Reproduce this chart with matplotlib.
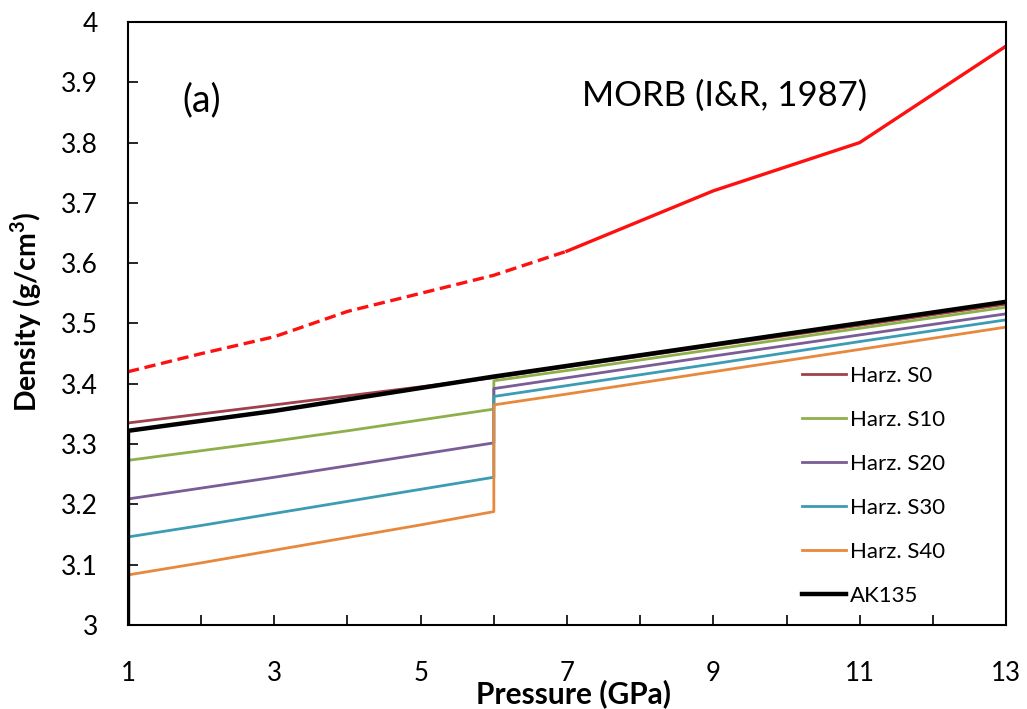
import matplotlib
matplotlib.use("Agg")
import matplotlib.pyplot as plt
from matplotlib.ticker import MultipleLocator, FuncFormatter

plt.rcParams['font.family'] = ['Lato', 'DejaVu Sans']

# Red MORB curve (dashed part then solid part)
morb_dash_p = [1, 2, 3, 4, 5, 6, 7]
morb_dash_d = [3.42, 3.45, 3.478, 3.52, 3.55, 3.58, 3.62]
morb_solid_p = [7, 9, 11, 13]
morb_solid_d = [3.62, 3.72, 3.80, 3.96]

# Harzburgite series
harz_p = [1, 2, 3, 4, 5, 6, 6, 7, 9, 11, 13]
s0 = [3.335, 3.35, 3.365, 3.38, 3.395, 3.41, 3.41, 3.428, 3.463, 3.497, 3.532]
s10 = [3.273, 3.289, 3.305, 3.322, 3.34, 3.358, 3.405, 3.422, 3.457, 3.492, 3.527]
s20 = [3.209, 3.227, 3.245, 3.264, 3.283, 3.302, 3.392, 3.41, 3.446, 3.481, 3.516]
s30 = [3.146, 3.165, 3.185, 3.205, 3.225, 3.245, 3.379, 3.397, 3.433, 3.47, 3.506]
s40 = [3.083, 3.103, 3.124, 3.145, 3.166, 3.188, 3.365, 3.383, 3.42, 3.457, 3.494]

# AK135 reference
ak_p = [1, 1, 3, 6, 9, 13]
ak_d = [2.92, 3.322, 3.355, 3.412, 3.465, 3.536]

labels = ["Harz. S0", "Harz. S10", "Harz. S20", "Harz. S30", "Harz. S40", "AK135"]
colors = ["#A0404A", "#8DB04A", "#7A5C96", "#3C9CB4", "#E8883C", "#000000"]

fig = plt.figure(figsize=(10.27, 7.09), dpi=100)
ax = fig.add_axes([0.1246, 0.1185, 0.855, 0.8505])

ax.plot(morb_dash_p, morb_dash_d, color="#FF1010", lw=2.4, ls=(0, (3.4, 1.7)))
ax.plot(morb_solid_p, morb_solid_d, color="#FF1010", lw=2.4)

for d, lab, c in zip([s0, s10, s20, s30, s40], labels[:5], colors[:5]):
    ax.plot(harz_p, d, color=c, lw=2.0, label=lab)
ax.plot(ak_p, ak_d, color=colors[5], lw=3.2, label=labels[5])

ax.set_xlim(1, 13)
ax.set_ylim(3, 4)
ax.xaxis.set_major_locator(MultipleLocator(1))
ax.xaxis.set_major_formatter(FuncFormatter(lambda v, p: f"{int(round(v))}" if int(round(v)) % 2 == 1 else ""))
ax.yaxis.set_major_locator(MultipleLocator(0.1))
ax.yaxis.set_major_formatter(FuncFormatter(lambda v, p: f"{int(round(v))}" if abs(v - round(v)) < 1e-6 else f"{v:.1f}"))
ax.tick_params(axis='x', direction='in', length=7, width=1.2, pad=26, labelsize=18.5)
ax.tick_params(axis='y', direction='in', length=7, width=1.2, pad=21.5, labelsize=19)
for s in ax.spines.values():
    s.set_linewidth(1.5)

ax.set_xlabel("Pressure (GPa)", fontsize=21.5, fontweight='bold')
ax.xaxis.set_label_coords(0.507, -0.09)
ax.set_ylabel("Density (g/cm$^\\mathregular{3}$)", fontsize=20.5, fontweight='bold')
ax.yaxis.set_label_coords(-0.096, 0.52)

ax.text(1.75, 3.87, "(a)", fontsize=27, ha='left', va='center')
ax.text(7.2, 3.877, "MORB (I&R, 1987)", fontsize=25, ha='left', va='center')

leg = ax.legend(loc='upper left', bbox_to_anchor=(0.768, 0.43), frameon=False,
                borderpad=0, borderaxespad=0,
                fontsize=16, handlelength=1.95, handletextpad=0.18, labelspacing=1.08)

fig.savefig("out.png", dpi=100)
